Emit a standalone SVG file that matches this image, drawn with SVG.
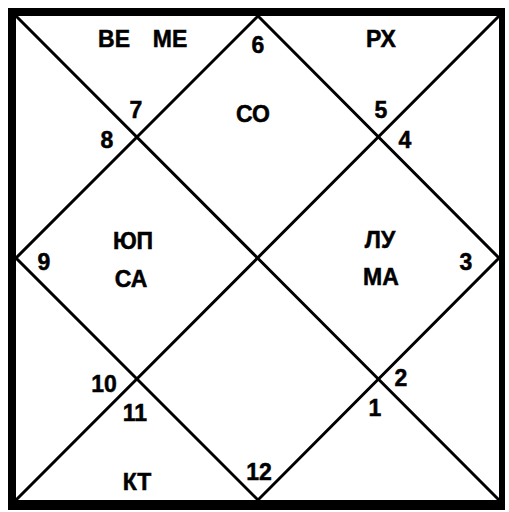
<svg xmlns="http://www.w3.org/2000/svg" width="509" height="512" viewBox="0 0 509 512">
<style>
  text { font-family: "Liberation Sans", Arial, sans-serif; font-weight: bold; font-size: 23px; fill: #000; stroke: #000; stroke-width: 0.5; text-anchor: middle; }
  .ln { stroke: #000; stroke-width: 3; fill: none; stroke-linecap: round; }
</style>
<rect width="509" height="512" fill="#fff"/>
<g id="frame">
  <path d="M8,8 H505 V510 H8 Z M16,16 V500 H499 V16 Z" fill="#000" fill-rule="evenodd"/>
</g>
<g id="connectors">
  <line class="ln" x1="16" y1="16" x2="499" y2="500"/>
  <line class="ln" x1="499" y1="16" x2="16" y2="500"/>
  <path class="ln" d="M258,16 L499,258 L258,500 L16,258 Z"/>
</g>
<g id="house-top-left">
  <text x="114" y="47">ВЕ</text>
  <text x="170" y="47">МЕ</text>
</g>
<g id="house-top-right"><text x="381" y="47">РХ</text></g>
<g id="house-center-top"><text x="253" y="122">СО</text></g>
<g id="house-left"><text x="133" y="249">ЮП</text><text x="131" y="287">СА</text></g>
<g id="house-right"><text x="380" y="248">ЛУ</text><text x="381" y="285">МА</text></g>
<g id="house-bottom-left"><text x="137" y="490">КТ</text></g>
<g id="numbers">
  <text x="258" y="53">6</text>
  <text x="136" y="118">7</text>
  <text x="107" y="148">8</text>
  <text x="381" y="118">5</text>
  <text x="405" y="148">4</text>
  <text x="44" y="270">9</text>
  <text x="466" y="270">3</text>
  <text x="104" y="392">10</text>
  <text x="135" y="421">11</text>
  <text x="401" y="386">2</text>
  <text x="375" y="416">1</text>
  <text x="259" y="480">12</text>
</g>
</svg>
